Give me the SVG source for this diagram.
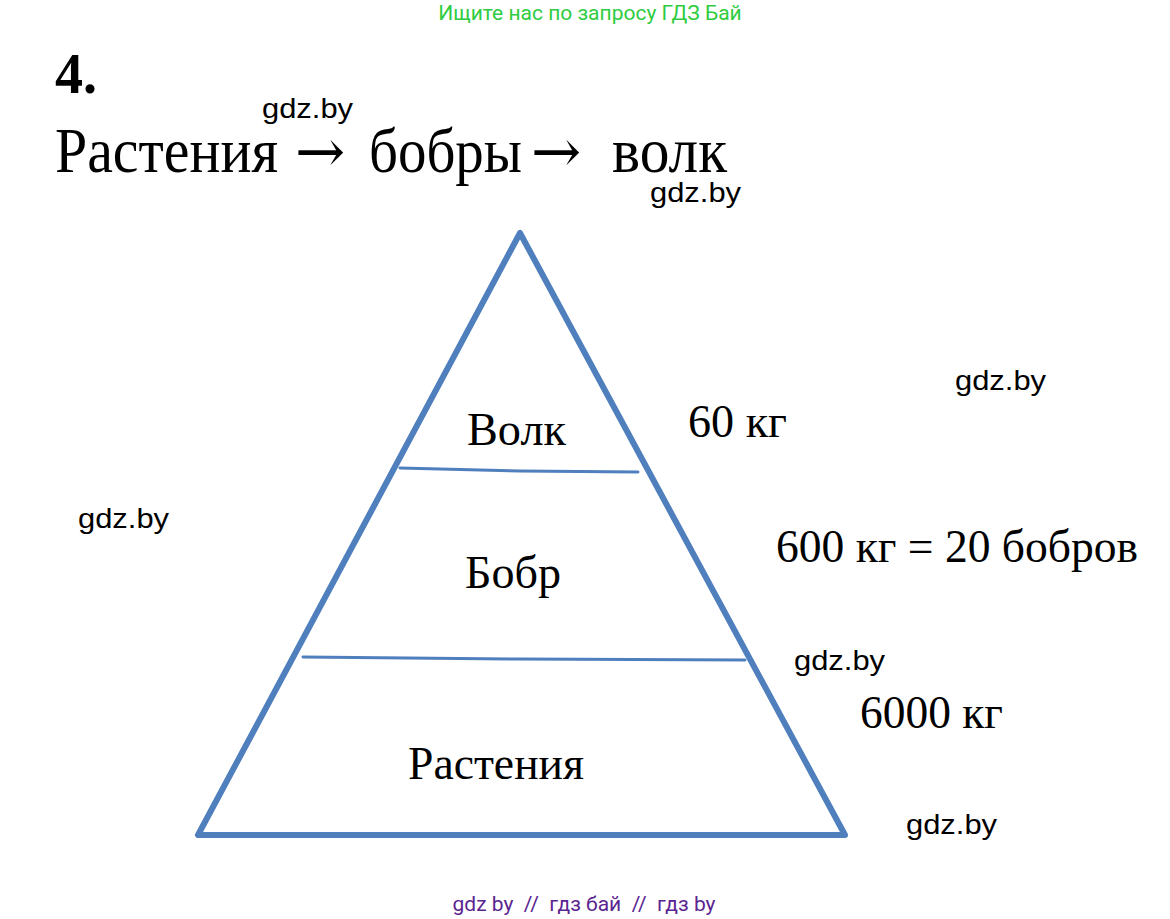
<svg xmlns="http://www.w3.org/2000/svg" width="1170" height="919" viewBox="0 0 1170 919">
<style>
.serif{font-family:"Liberation Serif","Times New Roman",serif;fill:#000}
.title{font-family:"Liberation Serif","Times New Roman",serif;font-size:64px;fill:#000}
.arr{font-family:"DejaVu Serif",serif;font-size:60px;fill:#000}
.wm{font-family:"Liberation Sans",Arial,sans-serif;font-size:28px;fill:#000}
.lvl{font-family:"Liberation Serif","Times New Roman",serif;font-size:46px;fill:#000}
.mass{font-family:"Liberation Serif","Times New Roman",serif;font-size:46px;fill:#000}
.edge{stroke:#4f7fbc;fill:none;stroke-linejoin:round;stroke-linecap:round}
</style>
<rect width="1170" height="919" fill="#fff"/>
<text x="590" y="20" text-anchor="middle" font-family="Roboto,'Liberation Sans',sans-serif" font-size="21" fill="#2ecc40">Ищите нас по запросу ГДЗ Бай</text>
<text x="55" y="93" class="serif" font-size="56" font-weight="bold" textLength="42" lengthAdjust="spacingAndGlyphs">4.</text>
<text x="262" y="118" class="wm" textLength="91" lengthAdjust="spacingAndGlyphs">gdz.by</text>
<g id="title">
<text x="55" y="172" class="title" textLength="223" lengthAdjust="spacingAndGlyphs">Растения</text>
<text x="295" y="172" class="arr">→</text>
<text x="369" y="172" class="title" textLength="153" lengthAdjust="spacingAndGlyphs">бобры</text>
<text x="531" y="172" class="arr">→</text>
<text x="612" y="172" class="title" textLength="115" lengthAdjust="spacingAndGlyphs">волк</text>
</g>
<text x="650" y="202" class="wm" textLength="91" lengthAdjust="spacingAndGlyphs">gdz.by</text>
<text x="955" y="390" class="wm" textLength="91" lengthAdjust="spacingAndGlyphs">gdz.by</text>
<text x="78" y="528" class="wm" textLength="91" lengthAdjust="spacingAndGlyphs">gdz.by</text>
<text x="794" y="670" class="wm" textLength="91" lengthAdjust="spacingAndGlyphs">gdz.by</text>
<text x="906" y="834" class="wm" textLength="91" lengthAdjust="spacingAndGlyphs">gdz.by</text>
<g id="pyramid">
<polygon class="edge" stroke-width="6" points="520,233 198,835 845,835"/>
</g>
<g id="connectors">
<polyline class="edge" stroke-width="3" points="400,468 520,471 638,472"/>
<polyline class="edge" stroke-width="3" points="303,657 520,659 745,660"/>
</g>
<g id="wolf"><text x="467" y="445" class="lvl" textLength="99" lengthAdjust="spacingAndGlyphs">Волк</text></g>
<g id="beaver"><text x="465" y="588" class="lvl" textLength="96" lengthAdjust="spacingAndGlyphs">Бобр</text></g>
<g id="plants"><text x="408" y="779" class="lvl" textLength="176" lengthAdjust="spacingAndGlyphs">Растения</text></g>
<g id="masses">
<text x="688" y="437" class="mass" textLength="99" lengthAdjust="spacingAndGlyphs">60 кг</text>
<text x="776" y="562" class="mass" textLength="362" lengthAdjust="spacingAndGlyphs">600 кг = 20 бобров</text>
<text x="860" y="728" class="mass" textLength="143" lengthAdjust="spacingAndGlyphs">6000 кг</text>
</g>
<text x="584" y="911" text-anchor="middle" font-family="Roboto,'Liberation Sans',sans-serif" font-size="21" fill="#5b2590" xml:space="preserve">gdz by  //  гдз бай  //  гдз by</text>
</svg>
